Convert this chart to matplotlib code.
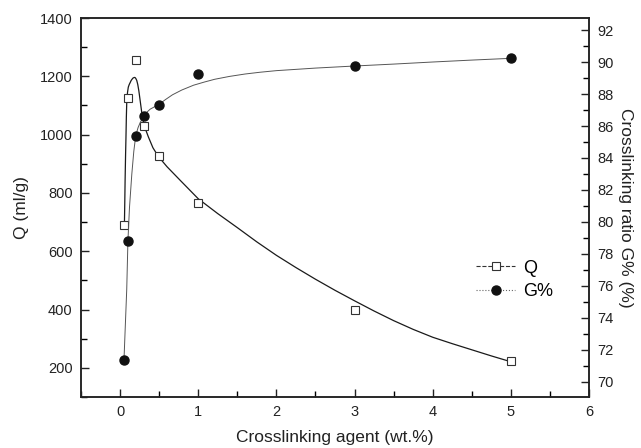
import matplotlib
matplotlib.use("Agg")
import matplotlib.pyplot as plt
from matplotlib.ticker import MultipleLocator
from matplotlib.lines import Line2D

plt.rcParams['font.family'] = ['Liberation Sans', 'DejaVu Sans']

# measured points
agent = [0.05, 0.1, 0.2, 0.3, 0.5, 1, 3, 5]
q_vals = [690, 1125, 1255, 1030, 925, 765, 400, 222]
g_vals = [71.4, 78.8, 85.4, 86.6, 87.3, 89.25, 89.75, 90.25]

# fitted curves
q_fit_x = [0.055, 0.06, 0.064, 0.07, 0.075, 0.08, 0.085, 0.095, 0.105, 0.117,
           0.128, 0.14, 0.15, 0.165, 0.18, 0.19, 0.2, 0.213, 0.226, 0.24,
           0.256, 0.275, 0.298, 0.33, 0.362, 0.42, 0.49, 0.6, 0.77, 1.0,
           1.25, 1.5, 1.75, 2.0, 2.25, 2.5, 2.75, 3.0, 3.25, 3.5, 3.75, 4.0,
           4.25, 4.5, 4.75, 5.0]
q_fit_y = [688, 770, 843, 930, 990, 1060, 1110, 1145, 1163, 1172,
           1178, 1185, 1189, 1194, 1196, 1196, 1193, 1186, 1172, 1150,
           1118, 1080, 1043, 1015, 992, 955, 925, 890, 843, 780,
           729, 681, 632, 586, 544, 504, 466, 430, 395, 362, 332, 305,
           283, 262, 241, 221]
g_fit_x = [0.05, 0.065, 0.085, 0.1, 0.12, 0.15, 0.175, 0.2, 0.23, 0.256, 0.3,
           0.34, 0.384, 0.44, 0.5, 0.58, 0.67, 0.79, 0.94, 1.08, 1.21, 1.4,
           1.6, 1.79, 2.0, 2.5, 3.0, 3.5, 4.0, 4.5, 5.0]
g_fit_y = [71.4, 73.3, 75.8, 78.8, 80.9, 83.0, 84.4, 85.4, 85.9, 86.2, 86.6,
           86.85, 87.05, 87.2, 87.36, 87.65, 87.95, 88.25, 88.55, 88.75,
           88.92, 89.1, 89.25, 89.36, 89.46, 89.62, 89.75, 89.87, 90.0,
           90.12, 90.23]

fig = plt.figure(figsize=(6.41, 4.48), dpi=100)
ax = fig.add_axes([0.1264, 0.1138, 0.7925, 0.8460])
ax2 = ax.twinx()

ax.plot(q_fit_x, q_fit_y, color='#1a1a1a', lw=0.9, zorder=2)
ax.plot(agent, q_vals, ls='none', marker='s', ms=6, mfc='white',
        mec='#333333', mew=0.8, zorder=3)

ax2.plot(g_fit_x, g_fit_y, color='#555555', lw=0.7, zorder=2)
ax2.plot(agent, g_vals, ls='none', marker='o', ms=6.5, mfc='#111111',
         mec='#111111', zorder=3)

ax.set_xlim(-0.5, 6)
ax.set_ylim(100, 1400)
ax2.set_ylim(69.06, 92.75)

ax.xaxis.set_major_locator(MultipleLocator(1))
ax.xaxis.set_minor_locator(MultipleLocator(0.5))
ax.yaxis.set_major_locator(MultipleLocator(200))
ax.yaxis.set_minor_locator(MultipleLocator(100))
ax2.yaxis.set_major_locator(MultipleLocator(2))
ax2.yaxis.set_minor_locator(MultipleLocator(1))

ax.tick_params(axis='both', which='major', direction='in', length=6, width=1,
               labelsize=10.5, colors='#222222', pad=6)
ax.tick_params(axis='both', which='minor', direction='in', length=4, width=1)
ax2.tick_params(axis='y', which='major', direction='in', length=6, width=1,
                labelsize=10.5, colors='#222222', pad=6)
ax2.tick_params(axis='y', which='minor', direction='in', length=4, width=1)

for a in (ax, ax2):
    for sp in a.spines.values():
        sp.set_linewidth(1.1)
        sp.set_color('#222222')

ax.set_xlabel('Crosslinking agent (wt.%)', fontsize=12.5, color='#222222', labelpad=8)
ax.set_ylabel('Q (ml/g)', fontsize=12.5, color='#222222', labelpad=8)
ax2.set_ylabel('Crosslinking ratio G% (%)', fontsize=12.5, color='#222222',
               rotation=-90, labelpad=14)

handles = [
    Line2D([], [], color='#333333', lw=0.8, ls='--', marker='s', ms=6,
           mfc='white', mec='#333333', mew=0.8),
    Line2D([], [], color='#666666', lw=0.8, ls=':', marker='o', ms=6.5,
           mfc='#111111', mec='#111111'),
]
ax.legend(handles, ['Q', 'G%'], loc='upper left', bbox_to_anchor=(0.745, 0.405),
          frameon=False, fontsize=13, handlelength=2.2, handletextpad=0.4,
          labelspacing=0.35)

fig.savefig('out.png', dpi=100)
